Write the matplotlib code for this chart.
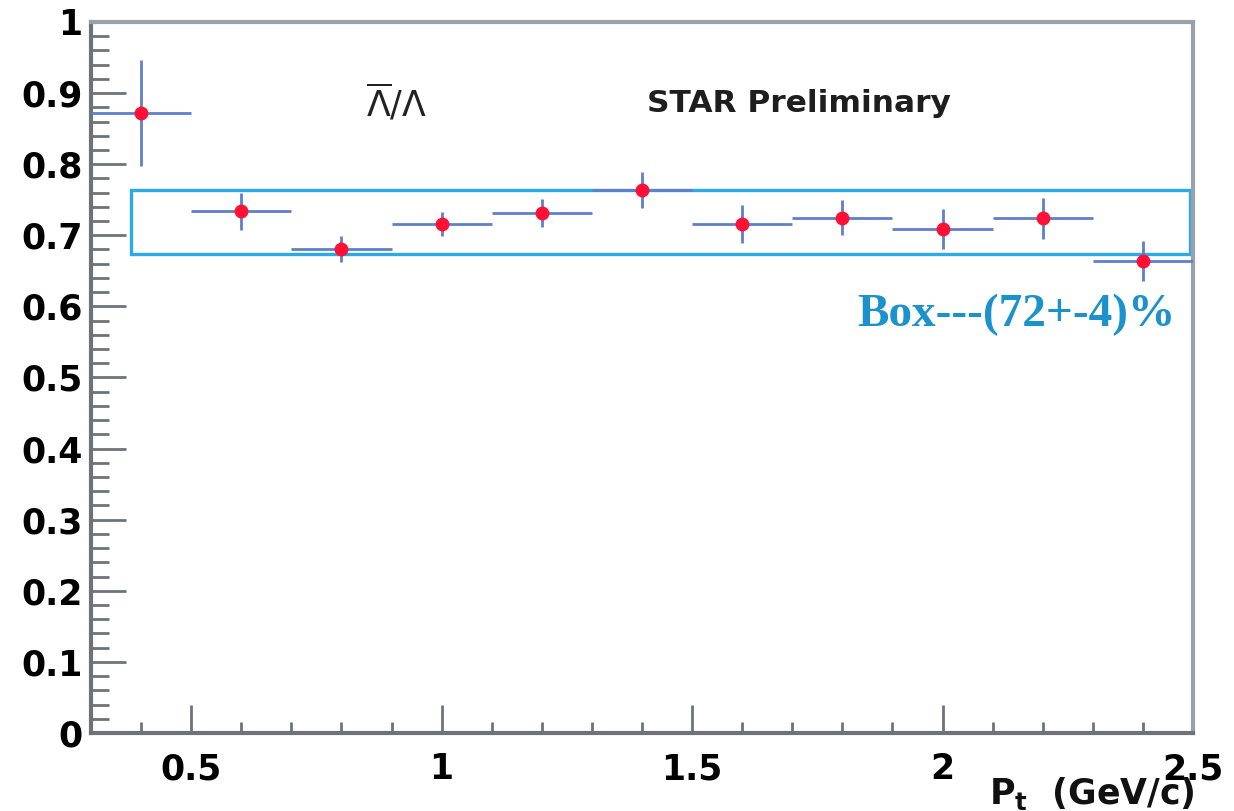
import matplotlib
matplotlib.use("Agg")
import matplotlib.pyplot as plt
from matplotlib.patches import Rectangle
from matplotlib.ticker import MultipleLocator

# anti-lambda / lambda ratio vs pt
pt = [0.4, 0.6, 0.8, 1.0, 1.2, 1.4, 1.6, 1.8, 2.0, 2.2, 2.4]
pt_err = [0.1] * 11
ratio = [0.872, 0.734, 0.681, 0.716, 0.731, 0.764, 0.716, 0.725, 0.709, 0.724, 0.664]
ratio_err = [0.074, 0.026, 0.018, 0.017, 0.020, 0.025, 0.027, 0.025, 0.028, 0.029, 0.028]

# constant band 72 +- 4 %
box_x = (0.38, 2.494)
box_y = (0.674, 0.764)

fig = plt.figure(figsize=(12.34, 8.11), dpi=100)
ax = fig.add_axes([0.0737, 0.0962, 0.8931, 0.8767])

ax.errorbar(pt, ratio, xerr=pt_err, yerr=ratio_err, fmt='o', color='#ff1034',
            ecolor='#5f7fcc', elinewidth=2.0, capsize=0, markersize=10,
            markeredgewidth=0, zorder=3)

ax.add_patch(Rectangle((box_x[0], box_y[0]), box_x[1] - box_x[0], box_y[1] - box_y[0],
                       fill=False, edgecolor='#2aaae6', linewidth=2.4, zorder=2))

ax.set_xlim(0.3, 2.5)
ax.set_ylim(0, 1)

ax.xaxis.set_major_locator(MultipleLocator(0.5))
ax.xaxis.set_minor_locator(MultipleLocator(0.1))
ax.yaxis.set_major_locator(MultipleLocator(0.1))
ax.yaxis.set_minor_locator(MultipleLocator(0.02))
ax.set_xticks([0.5, 1.0, 1.5, 2.0, 2.5])
ax.set_xticklabels(['0.5', '1', '1.5', '2', '2.5'])
ax.set_yticks([i / 10 for i in range(11)])
ax.set_yticklabels(['0', '0.1', '0.2', '0.3', '0.4', '0.5', '0.6', '0.7', '0.8', '0.9', '1'])

ax.tick_params(axis='both', which='both', direction='in', color='#6e737a', width=2)
ax.tick_params(axis='y', which='major', length=25, pad=6)
ax.tick_params(axis='y', which='minor', length=13)
ax.tick_params(axis='x', which='major', length=20, pad=14)
ax.tick_params(axis='x', which='minor', length=8)
for lab in ax.get_xticklabels() + ax.get_yticklabels():
    lab.set_fontsize(25)
    lab.set_fontweight('bold')
    lab.set_family('DejaVu Sans')

for side in ['left', 'bottom']:
    ax.spines[side].set_color('#6e737a')
    ax.spines[side].set_linewidth(3)
for side in ['top', 'right']:
    ax.spines[side].set_color('#9aa1a8')
    ax.spines[side].set_linewidth(3)

ax.text(0.85, 0.886, r'$\overline{\Lambda}/\Lambda$', fontsize=25, color='#222222',
        va='center', ha='left')
ax.text(1.41, 0.886, 'STAR Preliminary', fontsize=22.5, fontweight='bold',
        family='DejaVu Sans', color='#1e1e1e', va='center', ha='left')
ax.text(1.83, 0.588, 'Box---(72+-4)%', fontsize=34, fontweight='bold',
        family='Liberation Serif', color='#1b92cc', va='center', ha='left')

fig.text(1195 / 1234, 1 - 793 / 811, r'$\mathbf{P_t}$  (GeV/c)', fontsize=25,
         fontweight='bold', family='DejaVu Sans', color='#111111', ha='right', va='center')

fig.savefig('out.png', dpi=100)
